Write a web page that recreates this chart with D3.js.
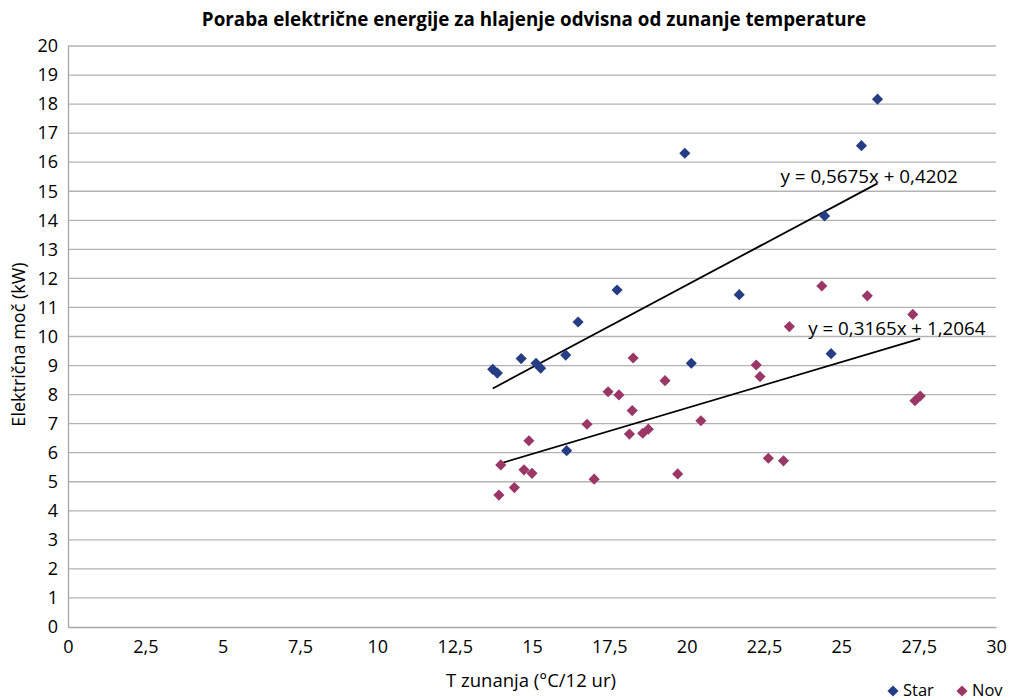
<!DOCTYPE html>
<html>
<head>
<meta charset="utf-8">
<script src="https://cdn.jsdelivr.net/npm/d3@7"></script>
<style>
  body { margin: 0; background: #fff; }
  text { font-family: "Open Sans", "Noto Sans", sans-serif; fill: #000; }
</style>
</head>
<body>
<svg id="chart" width="1010" height="700"></svg>
<script>
// Star (old unit)
var starX = [13.73, 13.88, 14.65, 15.13, 15.28, 16.09, 16.12, 16.49, 17.75, 19.94, 20.15, 21.70, 24.46, 24.67, 25.65, 26.17];
var starY = [8.87, 8.74, 9.24, 9.08, 8.91, 9.36, 6.07, 10.50, 11.60, 16.31, 9.08, 11.44, 14.15, 9.41, 16.57, 18.17];
// Nov (new unit)
var novX = [13.93, 13.99, 14.43, 14.74, 15.00, 14.90, 16.78, 17.01, 17.46, 17.81, 18.27, 18.24, 18.15, 18.58, 18.76, 19.30, 19.71, 20.46,
            22.25, 22.37, 22.64, 23.13, 23.32, 24.37, 25.84, 27.31, 27.38, 27.55];
var novY = [4.54, 5.58, 4.80, 5.41, 5.29, 6.41, 6.98, 5.09, 8.10, 7.99, 9.26, 7.45, 6.64, 6.67, 6.81, 8.48, 5.27, 7.10,
            9.02, 8.62, 5.81, 5.72, 10.34, 11.74, 11.40, 10.76, 7.79, 7.95];

// linear trend lines shown on the chart: slope, intercept
var trendSlope = [0.5675, 0.3165];
var trendIntercept = [0.4202, 1.2064];
var trendLabels = ["y = 0,5675x + 0,4202", "y = 0,3165x + 1,2064"];

var seriesNames = ["Star", "Nov"];
var seriesColors = ["#263d85", "#9a3766"];

var xTicks = [0, 2.5, 5, 7.5, 10, 12.5, 15, 17.5, 20, 22.5, 25, 27.5, 30];
var yTicks = d3.range(0, 21, 1);

var title = "Poraba električne energije za hlajenje odvisna od zunanje temperature";
var xTitle = "T zunanja (°C/12 ur)";
var yTitle = "Električna moč (kW)";

var margin = {top: 46, right: 14, bottom: 73, left: 68};
var width = 1010 - margin.left - margin.right,
    height = 700 - margin.top - margin.bottom;

var svg = d3.select("#chart");
var g = svg.append("g").attr("transform", "translate(" + margin.left + "," + margin.top + ")");

var x = d3.scaleLinear().domain([0, 30]).range([0, width]);
var y = d3.scaleLinear().domain([0, 20]).range([height, 0]);

var fmt = function(d) { return String(d).replace(".", ","); };

// horizontal grid
g.selectAll(".grid")
  .data(yTicks.filter(function(d) { return d > 0; }))
  .enter().append("line")
  .attr("x1", 0).attr("x2", width)
  .attr("y1", function(d) { return y(d); })
  .attr("y2", function(d) { return y(d); })
  .attr("stroke", "#b3b3b3")
  .attr("stroke-width", 1.3);

// axes
var xAxis = g.append("g").attr("transform", "translate(0," + height + ")")
  .call(d3.axisBottom(x).tickValues(xTicks).tickFormat(fmt).tickSize(0).tickPadding(13));
var yAxis = g.append("g")
  .call(d3.axisLeft(y).tickValues(yTicks).tickFormat(fmt).tickSize(0).tickPadding(10));
[xAxis, yAxis].forEach(function(a) {
  a.select(".domain").attr("stroke", "#a6a6a6").attr("stroke-width", 1.3);
  a.selectAll("text").style("font-size", "18px").style("font-family", "'Open Sans', sans-serif").attr("fill", "#000");
});

// trend lines
var series = [[starX, starY], [novX, novY]];
series.forEach(function(s, i) {
  var x0 = d3.min(s[0]), x1 = d3.max(s[0]);
  var y0 = trendSlope[i] * x0 + trendIntercept[i],
      y1 = trendSlope[i] * x1 + trendIntercept[i];
  g.append("line")
    .attr("x1", x(x0)).attr("y1", y(y0))
    .attr("x2", x(x1)).attr("y2", y(y1))
    .attr("stroke", "#000")
    .attr("stroke-width", 1.8);
  var off = i === 0 ? [-97, 0] : [-112, -4];
  g.append("text")
    .attr("x", x(x1) + off[0])
    .attr("y", y(y1) + off[1])
    .style("font-size", "18.8px")
    .text(trendLabels[i]);
});

// points
var diamond = d3.symbol().type(d3.symbolSquare).size(62);
series.forEach(function(s, i) {
  g.selectAll(".pt" + i)
    .data(d3.range(s[0].length))
    .enter().append("path")
    .attr("d", diamond)
    .attr("transform", function(k) {
      return "translate(" + x(s[0][k]) + "," + y(s[1][k]) + ") rotate(45)";
    })
    .attr("fill", seriesColors[i]);
});

// title
svg.append("text")
  .attr("x", 534).attr("y", 26)
  .attr("text-anchor", "middle")
  .style("font-size", "18.8px")
  .style("font-weight", "bold")
  .text(title);

// axis titles
svg.append("text")
  .attr("x", margin.left + x(15) - 1).attr("y", 687)
  .attr("text-anchor", "middle")
  .style("font-size", "18.5px")
  .text(xTitle);

svg.append("text")
  .attr("transform", "translate(25," + (margin.top + height / 2 + 8) + ") rotate(-90)")
  .attr("text-anchor", "middle")
  .style("font-size", "18px")
  .text(yTitle);

// legend
var legend = svg.append("g").attr("transform", "translate(893,691)");
var legX = [0, 69];
seriesNames.forEach(function(name, i) {
  legend.append("path")
    .attr("d", diamond)
    .attr("transform", "translate(" + legX[i] + ",0) rotate(45)")
    .attr("fill", seriesColors[i]);
  legend.append("text")
    .attr("x", legX[i] + 10).attr("y", 5)
    .style("font-size", "16.5px")
    .text(name);
});
</script>
</body>
</html>
